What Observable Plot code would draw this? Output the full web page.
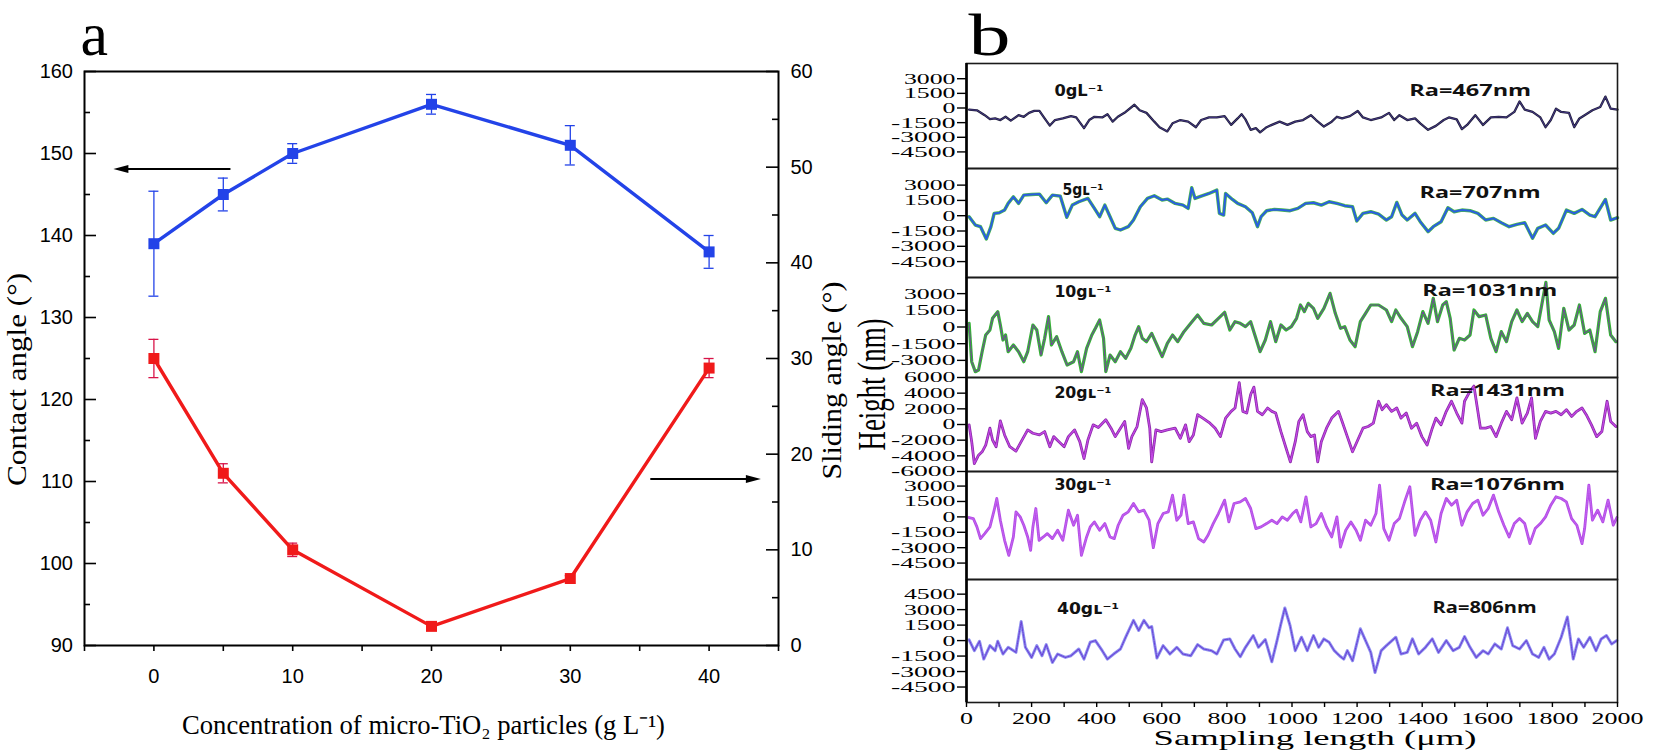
<!DOCTYPE html>
<html><head><meta charset="utf-8">
<script src="https://cdn.jsdelivr.net/npm/d3@7"></script>
<script src="https://cdn.jsdelivr.net/npm/@observablehq/plot@0.6"></script>
<style>
html,body{margin:0;padding:0;background:#fff;}
#root{position:relative;width:1654px;height:753px;overflow:hidden;background:#fff;}
#root svg{position:absolute;overflow:visible;max-width:none;}
</style></head><body><div id="root"></div>
<script>
// ---------- Panel a data ----------
const conc = [0, 5, 10, 20, 30, 40];
const contactAngle = [139, 145, 150, 156, 151, 138];
const contactErr = [6.4, 2.0, 1.2, 1.2, 2.4, 2.0];
const slidingAngle = [30, 18, 10, 2, 7, 29];
const slidingErr = [2.0, 1.0, 0.7, 0.3, 0.3, 1.0];
const contactTickLabels = [90, 100, 110, 120, 130, 140, 150, 160];
const contactTickMarks = [90, 95, 100, 105, 110, 115, 120, 125, 130, 135, 140, 145, 150, 155, 160];
const slidingTickLabels = [0, 10, 20, 30, 40, 50, 60];
const slidingTickMarks = [0, 5, 10, 15, 20, 25, 30, 35, 40, 45, 50, 55, 60];
const concTickMarks = [-5, 0, 5, 10, 15, 20, 25, 30, 35, 40, 45];
const concTickLabels = [0, 10, 20, 30, 40];

// ---------- Panel b data (sampling length in µm, height in nm) ----------
const prof0x = [8,32,56,72,88,104,120,136,160,176,192,208,224,240,256,272,296,321,337,361,377,393,417,433,449,465,489,516,532,553,577,593,617,633,657,681,705,721,745,769,793,813,833,845,857,873,889,902,922,938,962,986,1010,1034,1058,1074,1098,1122,1138,1154,1178,1202,1218,1242,1274,1298,1314,1330,1354,1378,1394,1418,1442,1466,1482,1506,1522,1538,1563,1587,1611,1635,1659,1683,1699,1715,1739,1763,1779,1795,1811,1827,1851,1867,1883,1899,1923,1947,1963,1979,2000];
const prof0h = [-167,-233,-733,-1133,-1067,-1233,-900,-1300,-733,-900,-500,-300,-300,-1067,-1800,-1233,-1067,-833,-967,-2067,-1233,-900,-967,-633,-1400,-900,-400,333,-233,-500,-1400,-1967,-2400,-1567,-1233,-1400,-1967,-1233,-967,-967,-833,-1733,-1067,-633,-1167,-2233,-2067,-2500,-1967,-1733,-1400,-1733,-1400,-1233,-733,-1233,-1900,-1400,-900,-1067,-833,-300,-967,-1233,-967,-500,-1233,-733,-1233,-1067,-1567,-2233,-1833,-1233,-967,-1167,-2167,-1733,-733,-1733,-967,-900,-967,-400,667,-167,-400,-967,-1967,-1233,-67,-400,-500,-1967,-1067,-733,-233,100,1167,-67,-167];

const prof1x = [8,27,43,61,75,85,101,117,128,144,160,176,200,224,245,264,288,308,325,345,373,393,409,425,441,457,473,497,513,534,556,577,601,617,641,665,681,692,702,721,745,769,777,790,796,817,833,857,878,894,905,922,946,970,994,1018,1042,1066,1090,1114,1138,1162,1186,1199,1218,1242,1266,1290,1306,1322,1338,1354,1378,1394,1418,1434,1458,1479,1498,1522,1547,1571,1595,1619,1643,1667,1691,1715,1739,1755,1779,1803,1819,1843,1867,1891,1915,1931,1963,1979,2000];
const prof1h = [-98,-913,-1076,-2282,-1076,228,293,554,1206,1858,1206,2021,2086,2119,1271,2021,1923,-163,1043,1369,1695,717,-98,1043,-98,-1239,-1402,-1076,-424,880,1695,1956,1532,1630,1206,1043,717,2738,1695,1923,2184,2510,228,65,2184,1597,1206,880,293,-1076,-98,489,619,554,489,717,1206,1271,1043,1369,1206,978,880,-522,228,391,163,-424,-98,1304,65,-424,228,-587,-1565,-1076,-587,782,391,554,489,228,-424,-261,-685,-1076,-848,-685,-2217,-1239,-913,-1728,-1239,554,228,619,65,-98,1597,-424,-196];

const prof2x = [8,16,27,37,48,59,72,80,88,96,104,112,120,128,144,160,176,188,204,216,229,240,252,261,277,293,309,329,341,353,369,385,396,409,421,428,441,457,473,489,505,518,529,540,553,569,585,601,617,633,649,668,689,710,729,753,774,793,809,825,841,857,873,889,902,918,934,950,966,982,998,1014,1026,1038,1050,1066,1079,1098,1117,1133,1149,1162,1178,1194,1210,1226,1242,1266,1290,1306,1319,1335,1354,1370,1386,1402,1418,1434,1447,1463,1474,1486,1498,1514,1530,1547,1559,1575,1595,1611,1627,1643,1659,1675,1691,1707,1723,1739,1755,1771,1780,1790,1806,1819,1835,1851,1867,1883,1899,1915,1931,1947,1963,1979,1995];
const prof2h = [330,-3120,-4020,-3870,-2220,-720,-270,780,1080,1380,180,-1170,-720,-2220,-1620,-2220,-3120,-2220,180,-270,-2520,-1020,930,-1620,-870,-2220,-3420,-3120,-2220,-4020,-1920,-720,-120,630,-1020,-4020,-2520,-3120,-2220,-2820,-1920,-720,30,-1020,-1320,-570,-1620,-2670,-1470,-720,-1320,-420,330,1080,330,180,780,1320,-270,480,330,30,480,-1020,-2220,-1170,480,-1320,180,-270,30,780,1980,1380,2130,1680,780,1680,3030,1230,-120,30,-1170,-1770,480,1230,1980,1980,1530,480,1530,780,30,-1770,-420,1380,330,2580,480,1980,2280,780,-2070,-1020,-1170,-720,1530,930,1080,-1020,-2220,-420,-1320,480,1530,480,1230,480,30,2580,4020,630,-420,-1920,1680,-270,180,1980,-570,-270,-2220,1380,2580,-720,-1320];

const prof3x = [8,16,24,37,48,59,72,80,91,104,117,133,152,168,188,204,224,240,256,268,284,300,313,332,348,361,373,389,405,428,444,457,473,486,498,508,524,540,553,563,569,582,598,617,641,657,673,684,697,710,726,748,764,780,796,813,825,838,849,861,873,883,894,909,925,938,950,966,982,995,1010,1021,1034,1047,1058,1069,1079,1090,1106,1122,1143,1154,1170,1186,1202,1218,1234,1250,1266,1277,1290,1306,1322,1335,1351,1367,1383,1399,1415,1431,1442,1458,1474,1490,1506,1522,1530,1547,1559,1571,1579,1595,1611,1627,1643,1659,1675,1691,1707,1723,1736,1748,1763,1779,1795,1811,1827,1843,1859,1875,1891,1904,1920,1936,1952,1968,1979,1995];
const prof3h = [-43,-2193,-4988,-3913,-3483,-2623,-473,-1978,-2838,473,-1333,-2838,-3397,-2193,-688,-1118,-1333,-903,-2838,-1548,-2193,-2838,-1548,-688,-2193,-4343,-1978,-43,-387,602,-473,-1548,-473,387,-3053,-1548,-258,3182,2107,-473,-4773,-688,-903,-688,-473,-1763,-43,-2193,-1333,1247,817,172,-473,-1548,817,1677,2107,5332,1677,1462,3827,4773,1677,1247,2107,1677,1462,-903,-3053,-4773,-2193,387,1247,-903,-1548,-1333,-4773,-2193,-473,817,1677,387,-1548,-3483,-1978,-473,-258,172,2967,1892,2537,1677,2107,817,1462,-473,172,-1548,-2623,-473,817,-43,1677,2967,1462,172,2967,4257,4902,1677,-473,-473,-258,-1548,172,1677,602,3397,172,1462,3397,-1763,387,1677,1462,1677,1247,1892,1032,1677,2107,1247,-43,-1548,-903,2967,387,-258];

const prof4x = [8,21,32,43,56,72,85,93,104,117,130,144,152,165,176,188,197,204,213,223,236,248,264,280,296,313,329,341,353,369,380,393,409,425,441,454,466,481,497,513,529,545,561,574,588,604,620,633,646,659,668,681,697,713,729,742,758,774,793,806,822,841,857,873,889,905,922,938,954,970,986,1002,1014,1027,1043,1058,1074,1090,1106,1122,1138,1149,1165,1181,1197,1210,1226,1242,1258,1269,1282,1298,1314,1330,1346,1362,1378,1394,1410,1426,1442,1458,1474,1490,1506,1522,1538,1555,1571,1587,1603,1619,1635,1651,1667,1683,1699,1715,1731,1747,1763,1779,1795,1811,1827,1843,1859,1875,1891,1899,1912,1923,1939,1955,1971,1987,1998];
const prof4h = [-65,-163,-978,-2119,-1630,-978,652,1793,-326,-2282,-3749,-1956,489,0,-815,-1956,-3260,-978,815,-2282,-1956,-1630,-2119,-1304,-2282,652,-815,163,-3749,-1956,-978,-489,-1304,-652,-1956,-2119,-815,163,489,1304,489,652,-326,-2999,-652,326,489,2119,-326,163,2119,-652,-489,-2119,-2445,-1793,-652,326,1630,-489,1304,1467,1793,815,-1141,-978,-652,-326,-652,0,-326,326,652,-489,1956,-978,-652,326,-978,-1956,0,-2934,-1304,-489,-1304,-2282,-326,-815,326,3097,-1141,-2282,-652,-163,1467,2934,-1793,-326,489,-326,-2445,326,1793,1141,1630,-815,489,1304,1630,163,815,2119,489,-815,-1956,-652,-163,-652,-2608,-1141,-652,0,1141,1956,1793,1467,-163,-815,-2608,-1141,3097,-326,652,-489,1630,-815,-65];

const prof5x = [8,24,40,53,72,88,96,112,128,152,168,181,200,216,232,245,264,280,304,321,345,361,380,396,417,433,452,473,489,513,529,545,561,569,585,604,625,646,665,689,710,729,753,769,790,809,825,841,857,881,897,918,938,954,966,978,994,1010,1029,1047,1066,1082,1098,1114,1130,1146,1159,1170,1186,1210,1226,1242,1255,1274,1290,1319,1335,1354,1370,1389,1410,1431,1450,1474,1495,1514,1530,1547,1566,1587,1603,1623,1643,1662,1678,1699,1720,1739,1758,1774,1790,1806,1827,1846,1864,1880,1896,1915,1934,1950,1966,1982,1998];
const prof5h = [65,-978,-65,-1793,-489,-978,-65,-1304,-652,-1141,1858,-652,-1630,-489,-1467,-391,-2119,-1304,-1630,-1467,-815,-1793,-163,0,-978,-1793,-1304,-815,326,1956,978,1956,1239,1369,-1695,-489,-1304,-652,-1304,-1467,-391,-815,-978,-1304,65,163,-815,-1565,-652,489,-652,98,-2054,0,1630,3162,1467,-978,326,-978,489,-652,163,-163,-978,-1467,-1793,-978,-1956,1141,0,-1141,-3097,-978,-489,326,-1304,-1141,163,-1304,-652,163,-1141,0,-978,-652,391,-652,-1630,-978,-1304,-326,-815,1239,-489,-815,0,-1304,-1630,-652,-1793,-1304,326,2282,-1793,163,-652,326,-978,163,489,-326,0];

const samplingTicks = [0,100,200,300,400,500,600,700,800,900,1000,1100,1200,1300,1400,1500,1600,1700,1800,1900,2000];
const concLabels = ["0gL⁻¹", "5gʟ⁻¹", "10gʟ⁻¹", "20gʟ⁻¹", "30gʟ⁻¹", "40gʟ⁻¹"];
const raLabels = ["Ra=467nm", "Ra=707nm", "Ra=1031nm", "Ra=1431nm", "Ra=1076nm", "Ra=806nm"];

// ---------- helpers ----------
const root = document.getElementById("root");
function place(svg, left, top) { svg.style.left = left + "px"; svg.style.top = top + "px"; root.appendChild(svg); }
function fixLen(svg, label, len) {
  d3.select(svg).selectAll(`text[aria-label="${label}"], g[aria-label="${label}"] text`).attr("textLength", len).attr("lengthAdjust", "spacingAndGlyphs");
}
function stretchTicks(svg, sel, perChar) {
  d3.select(svg).selectAll(sel).each(function () {
    const t = this.textContent;
    if (t && t.trim()) { this.setAttribute("textLength", t.length * perChar); this.setAttribute("lengthAdjust", "spacingAndGlyphs"); }
  });
}
const tag = name => () => name; // aria-label channel (constant per text)
const SERIF = "'Liberation Serif', 'Times New Roman', serif";
const SANS = "'Liberation Sans', Arial, sans-serif";

// ---------- Panel a ----------
const s2c = s => 90 + s * 70 / 60;
const c2s = c => (c - 90) * 60 / 70;
const rowsA = conc.map((c, i) => ({c, ca: contactAngle[i], ce: contactErr[i], sl: s2c(slidingAngle[i]), se: slidingErr[i] * 70 / 60}));
const BLUE = "#2343e8", RED = "#f01a1a", RED_ERR = "#d81448";
const pxX = 50 / 694; // data units per pixel along x
const pxY = 70 / 574; // data units per pixel along y
const headLeft = {draw(ctx) { ctx.moveTo(-7.5, 0); ctx.lineTo(7.5, -4); ctx.lineTo(7.5, 4); ctx.closePath(); }};
const headRight = {draw(ctx) { ctx.moveTo(7.5, 0); ctx.lineTo(-7.5, -4); ctx.lineTo(-7.5, 4); ctx.closePath(); }};
const arrowContact = {y: 148.1, from: 5.55, tip: -2.92};
const arrowSliding = {y: 17.4, from: 35.8, tip: 43.73};

const plotA = Plot.plot({
  width: 860, height: 753,
  marginLeft: 84, marginRight: 82, marginTop: 71, marginBottom: 108,
  x: {domain: [-5, 45], label: null},
  y: {domain: [90, 160], label: null},
  style: {background: "transparent", overflow: "visible", fontFamily: SANS, fontSize: "20px", color: "#000"},
  marks: [
    Plot.axisX({ticks: concTickMarks, tickSize: 6, tickPadding: 17, label: null, tickFormat: d => concTickLabels.includes(d) ? String(d) : "", fontSize: 20, fontFamily: SANS, strokeWidth: 1.6}),
    Plot.axisY({ticks: contactTickLabels, tickSize: 0, tickPadding: 11.5, label: null, tickFormat: d => String(d), fontSize: 20, fontFamily: SANS}),
    Plot.axisY({anchor: "right", ticks: slidingTickLabels.map(s2c), tickSize: 0, tickPadding: 12, label: null, tickFormat: v => String(Math.round(c2s(v))), fontSize: 20, fontFamily: SANS}),
    Plot.ruleY(contactTickMarks, {y: d => d, x1: -5, x2: d => -5 + (d % 10 === 0 ? 12 : 6) * pxX, stroke: "#000", strokeWidth: 1.6}),
    Plot.ruleY(slidingTickMarks, {y: d => s2c(d), x1: d => 45 - (d % 10 === 0 ? 12 : 6) * pxX, x2: 45, stroke: "#000", strokeWidth: 1.6}),
    Plot.frame({stroke: "#000", strokeWidth: 2}),
    // error bars
    Plot.ruleX(rowsA, {x: "c", y1: d => d.ca - d.ce, y2: d => d.ca + d.ce, stroke: BLUE, strokeWidth: 1.3}),
    Plot.ruleY(rowsA, {y: d => d.ca + d.ce, x1: d => d.c - 0.36, x2: d => d.c + 0.36, stroke: BLUE, strokeWidth: 1.3}),
    Plot.ruleY(rowsA, {y: d => d.ca - d.ce, x1: d => d.c - 0.36, x2: d => d.c + 0.36, stroke: BLUE, strokeWidth: 1.3}),
    Plot.ruleX(rowsA, {x: "c", y1: d => d.sl - d.se, y2: d => d.sl + d.se, stroke: RED_ERR, strokeWidth: 1.3}),
    Plot.ruleY(rowsA, {y: d => d.sl + d.se, x1: d => d.c - 0.36, x2: d => d.c + 0.36, stroke: RED_ERR, strokeWidth: 1.3}),
    Plot.ruleY(rowsA, {y: d => d.sl - d.se, x1: d => d.c - 0.36, x2: d => d.c + 0.36, stroke: RED_ERR, strokeWidth: 1.3}),
    // lines
    Plot.line(rowsA, {x: "c", y: "ca", stroke: BLUE, strokeWidth: 3.4}),
    Plot.line(rowsA, {x: "c", y: "sl", stroke: RED, strokeWidth: 3.4}),
    Plot.dot(rowsA, {x: "c", y: "ca", symbol: "square", r: 6.2, fill: BLUE, stroke: "none"}),
    Plot.dot(rowsA, {x: "c", y: "sl", symbol: "square", r: 6.2, fill: RED, stroke: "none"}),
    // arrows
    Plot.ruleY([arrowContact], {y: "y", x1: d => d.tip + 10 * pxX, x2: "from", stroke: "#000", strokeWidth: 2}),
    Plot.dot([arrowContact], {x: d => d.tip + 7.5 * pxX, y: "y", symbol: headLeft, r: 4, fill: "#000", stroke: "none"}),
    Plot.ruleY([arrowSliding], {y: d => s2c(d.y), x1: "from", x2: d => d.tip - 10 * pxX, stroke: "#000", strokeWidth: 2}),
    Plot.dot([arrowSliding], {x: d => d.tip - 7.5 * pxX, y: d => s2c(d.y), symbol: headRight, r: 4, fill: "#000", stroke: "none"}),
    // texts
    Plot.text(["a"], {text: d => d, x: -5 - 4 * pxX, y: 160 + 17 * pxY, lineAnchor: "bottom", textAnchor: "start", fontSize: 62, fontFamily: SERIF, fill: "#000", ariaLabel: tag("a-label")}),
    Plot.text(["Concentration of micro-TiO₂ particles (g L⁻¹)"], {text: d => d, x: 20 - 8 * pxX, y: 90 - 88 * pxY, lineAnchor: "bottom", textAnchor: "middle", fontSize: 27, fontFamily: SERIF, fill: "#000", ariaLabel: tag("xtitle-a")}),
    Plot.text(["Contact angle (°)"], {text: d => d, x: -5 - 67 * pxX, y: 160 - 308 * pxY, rotate: -90, textAnchor: "middle", lineAnchor: "middle", fontSize: 27, fontFamily: SERIF, fill: "#000", ariaLabel: tag("contact-title")}),
    Plot.text(["Sliding angle (°)"], {text: d => d, x: 45 + 54 * pxX, y: 160 - 309 * pxY, rotate: -90, textAnchor: "middle", lineAnchor: "middle", fontSize: 27, fontFamily: SERIF, fill: "#000", ariaLabel: tag("sliding-title")})
  ]
});
fixLen(plotA, "xtitle-a", 483);
fixLen(plotA, "contact-title", 213);
fixLen(plotA, "sliding-title", 198);
place(plotA, 0, 0);

// ---------- Panel b ----------
const panels = [
  {xs: prof0x, hs: prof0h, top: 63, h: 105, domain: [-6200, 4560], ticks: [3000,1500,0,-1500,-3000,-4500], under: "#1d1d36", underW: 2.3, over: "#4a3a8e", overW: 0.9, dash: null, lx: 270, ly: 1742, lw: 49, rx: 1360, ry: 1742, rw: 122},
  {xs: prof1x, hs: prof1h, top: 168, h: 109, domain: [-6060, 4630], ticks: [3000,1500,0,-1500,-3000,-4500], under: "#4cb850", underW: 3.4, over: "#2a5ee0", overW: 2, dash: null, lx: 295, ly: 2570, lw: 41, rx: 1392, ry: 2276, rw: 121},
  {xs: prof2x, hs: prof2h, top: 277, h: 100, domain: [-4540, 4450], ticks: [3000,1500,0,-1500,-3000], under: "#36b236", underW: 3.2, over: "#7a3aa6", overW: 1.1, dash: "1.4 1.4", lx: 270, ly: 3191, lw: 57, rx: 1400, ry: 3281, rw: 135},
  {xs: prof3x, hs: prof3h, top: 377, h: 94, domain: [-6000, 6000], ticks: [6000,4000,2000,0,-2000,-4000,-6000], under: "#8a2aa8", underW: 2.8, over: "#c548e6", overW: 1.3, dash: "1.4 1", lx: 270, ly: 4085, lw: 57, rx: 1424, ry: 4340, rw: 135},
  {xs: prof4x, hs: prof4h, top: 471, h: 108, domain: [-6100, 4420], ticks: [3000,1500,0,-1500,-3000,-4500], under: "#b44ce6", underW: 2.8, over: "#c565f2", overW: 1, dash: "1.4 1", lx: 270, ly: 3105, lw: 57, rx: 1424, ry: 3154, rw: 135},
  {xs: prof5x, hs: prof5h, top: 579, h: 123, domain: [-6000, 5920], ticks: [4500,3000,1500,0,-1500,-3000,-4500], under: "#8e90f0", underW: 3, over: "#6a42d6", overW: 1.1, dash: "1.4 1", lx: 278, ly: 3110, lw: 62, rx: 1432, ry: 3139, rw: 104}
];
const pbX = 2000 / 651; // µm per pixel

panels.forEach((p, i) => {
  const last = i === panels.length - 1;
  const pbY = (p.domain[1] - p.domain[0]) / p.h; // nm per pixel
  const rows = p.xs.map((x, j) => ({x, h: p.hs[j]}));
  const marks = [
    Plot.line(rows, {x: "x", y: "h", stroke: p.under, strokeWidth: p.underW, strokeLinejoin: "round"}),
    Plot.line(rows, {x: "x", y: "h", stroke: p.over, strokeWidth: p.overW, strokeDasharray: p.dash, strokeLinejoin: "round"}),
    Plot.frame({stroke: "#1a1a1a", strokeWidth: 1.6}),
    Plot.ruleX([0], {stroke: "#000", strokeWidth: 2.6}),
    Plot.axisY({ticks: p.ticks, tickSize: 9, tickPadding: 2, label: null, tickFormat: d => String(d), fontSize: 15.5, fontFamily: SERIF, strokeWidth: 1.4}),
    Plot.text([concLabels[i]], {text: d => d, x: p.lx, y: p.ly, textAnchor: "start", fontSize: 16, fontWeight: "bold", fontFamily: "'DejaVu Sans', sans-serif", fill: "#111", ariaLabel: tag("conc-label")}),
    Plot.text([raLabels[i]], {text: d => d, x: p.rx, y: p.ry, textAnchor: "start", fontSize: 16, fontWeight: "bold", fontFamily: "'Open Sans', 'DejaVu Sans', sans-serif", fill: "#111", ariaLabel: tag("ra-label")})
  ];
  if (i === 0) marks.push(Plot.text(["b"], {text: d => d, x: 2 * pbX, y: p.domain[1] + 9 * pbY, lineAnchor: "bottom", textAnchor: "start", fontSize: 60, fontFamily: SERIF, fill: "#000", ariaLabel: tag("b-label")}));
  if (i === 3) marks.push(Plot.text(["Height (nm)"], {text: d => d, x: -94 * pbX, y: p.domain[1] - 7 * pbY, rotate: -90, textAnchor: "middle", lineAnchor: "middle", fontSize: 26, fontFamily: SERIF, fill: "#000", ariaLabel: tag("height-title")}));
  if (last) {
    marks.push(Plot.axisX({ticks: samplingTicks, tickSize: 5, tickPadding: 4, label: null, tickFormat: d => d % 200 === 0 ? String(d) : "", fontSize: 17, fontFamily: SERIF, strokeWidth: 1.4}));
    marks.push(Plot.text(["Sampling length (μm)"], {text: d => d, x: 1000 + 23 * pbX, y: p.domain[0] - 42 * pbY, lineAnchor: "bottom", textAnchor: "middle", fontSize: 22, fontFamily: SERIF, fill: "#000", ariaLabel: tag("sampling-title")}));
  }
  const svg = Plot.plot({
    width: 794, height: last ? p.h + 51 : p.h,
    marginLeft: 106, marginRight: 37, marginTop: 0, marginBottom: last ? 51 : 0,
    x: {domain: [0, 2000], label: null, axis: last ? undefined : null},
    y: {domain: p.domain, label: null},
    style: {background: "transparent", overflow: "visible", fontFamily: SERIF, color: "#000"},
    marks
  });
  stretchTicks(svg, 'g[aria-label="y-axis tick label"] text', 12.9);
  stretchTicks(svg, 'g[aria-label="x-axis tick label"] text', 13);
  fixLen(svg, "conc-label", p.lw);
  fixLen(svg, "ra-label", p.rw);
  fixLen(svg, "b-label", 42);
  fixLen(svg, "sampling-title", 323);
  fixLen(svg, "height-title", 132);
  d3.select(svg).selectAll('text[aria-label="height-title"], g[aria-label="height-title"] text').each(function () {
    const tr = this.getAttribute("transform") || "";
    this.setAttribute("transform", tr.replace("rotate(-90)", "scale(1.5,1) rotate(-90)"));
  });
  place(svg, 860, p.top);
});
</script></body></html>
